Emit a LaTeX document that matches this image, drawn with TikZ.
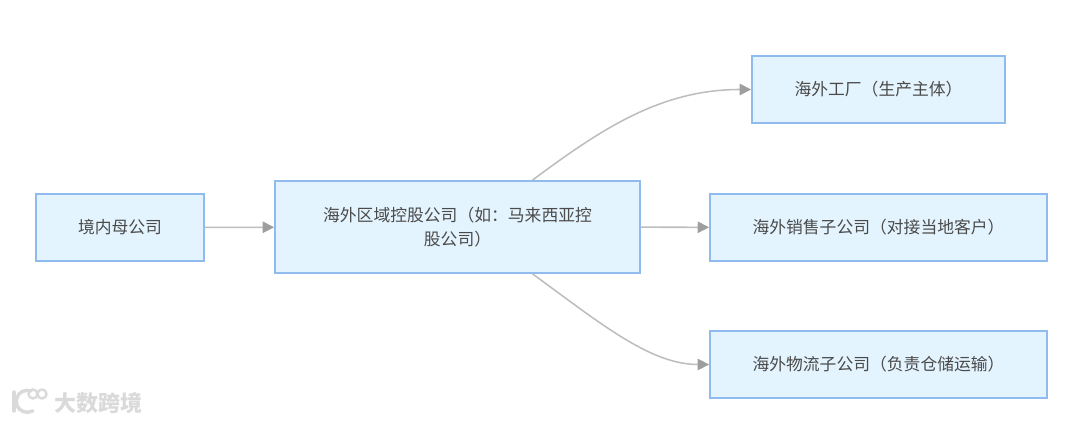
\documentclass[tikz,border=0pt]{standalone}
\usepackage{fontspec}
\setmainfont{Noto Sans CJK SC}
\usetikzlibrary{calc,arrows.meta}

\definecolor{boxfill}{HTML}{E4F4FE}
\definecolor{boxline}{HTML}{90BBEE}
\definecolor{edgeline}{HTML}{BDBDBD}
\definecolor{edgetip}{HTML}{9E9E9E}
\definecolor{boxtext}{HTML}{4A4A4A}
\definecolor{markgray}{HTML}{DADADA}

\tikzset{
  entity/.style={draw=boxline, fill=boxfill, line width=1.15pt, text=boxtext, font=\fontsize{12.6pt}{18pt}\selectfont, align=center, inner sep=0pt},
  link/.style={draw=edgeline, line width=1.15pt, -{Triangle[length=8.5pt, width=8.5pt, color=edgetip]}},
}

\begin{document}
\begin{tikzpicture}[x=0.75pt, y=0.75pt]
      \useasboundingbox (0,0) rectangle (1080,423);

      \node[entity, minimum width=126pt, minimum height=50pt] (parent) at (120, 195.5) {境内母公司};
      \node[entity, minimum width=274pt, minimum height=69pt] (hold) at (457.5, 196) {海外区域控股公司（如：马来西亚控\\股公司）};
      \node[entity, minimum width=190pt, minimum height=50pt] (factory) at (878.5, 333.5) {海外工厂（生产主体）};
      \node[entity, minimum width=253pt, minimum height=50pt] (sales) at (878.5, 195.5) {海外销售子公司（对接当地客户）};
      \node[entity, minimum width=253pt, minimum height=50pt] (logistics) at (878.5, 58.5) {海外物流子公司（负责仓储运输）};

      \coordinate (holdtop) at ($(hold.north west)!0.704!(hold.north east)$);
      \coordinate (holdbot) at ($(hold.south west)!0.704!(hold.south east)$);

      \draw[link] (parent) -- (hold);
      \draw[link] (hold) -- (sales);
      \draw[link] (holdtop) .. controls (600, 293) and (660, 333.5) .. (factory.west);
      \draw[link] (holdbot) .. controls (600, 100) and (650, 58.5) .. (logistics.west);

      % watermark
      \node[text=markgray, font=\bfseries\fontsize{16.5pt}{18pt}\selectfont, inner sep=0pt] (mark) at (98, 20) {大数跨境};
      \draw[markgray, line width=2.6pt, line cap=round] (14, 31) -- (14, 12);
      \draw[markgray, line width=2.6pt, line cap=round] (31, 32) arc[start angle=70, end angle=300, radius=11];
      \draw[markgray, line width=1.8pt] (33, 29) circle[radius=4.5];
      \draw[markgray, line width=1.8pt] (42, 29) circle[radius=4.5];
    \end{tikzpicture}
\end{document}
